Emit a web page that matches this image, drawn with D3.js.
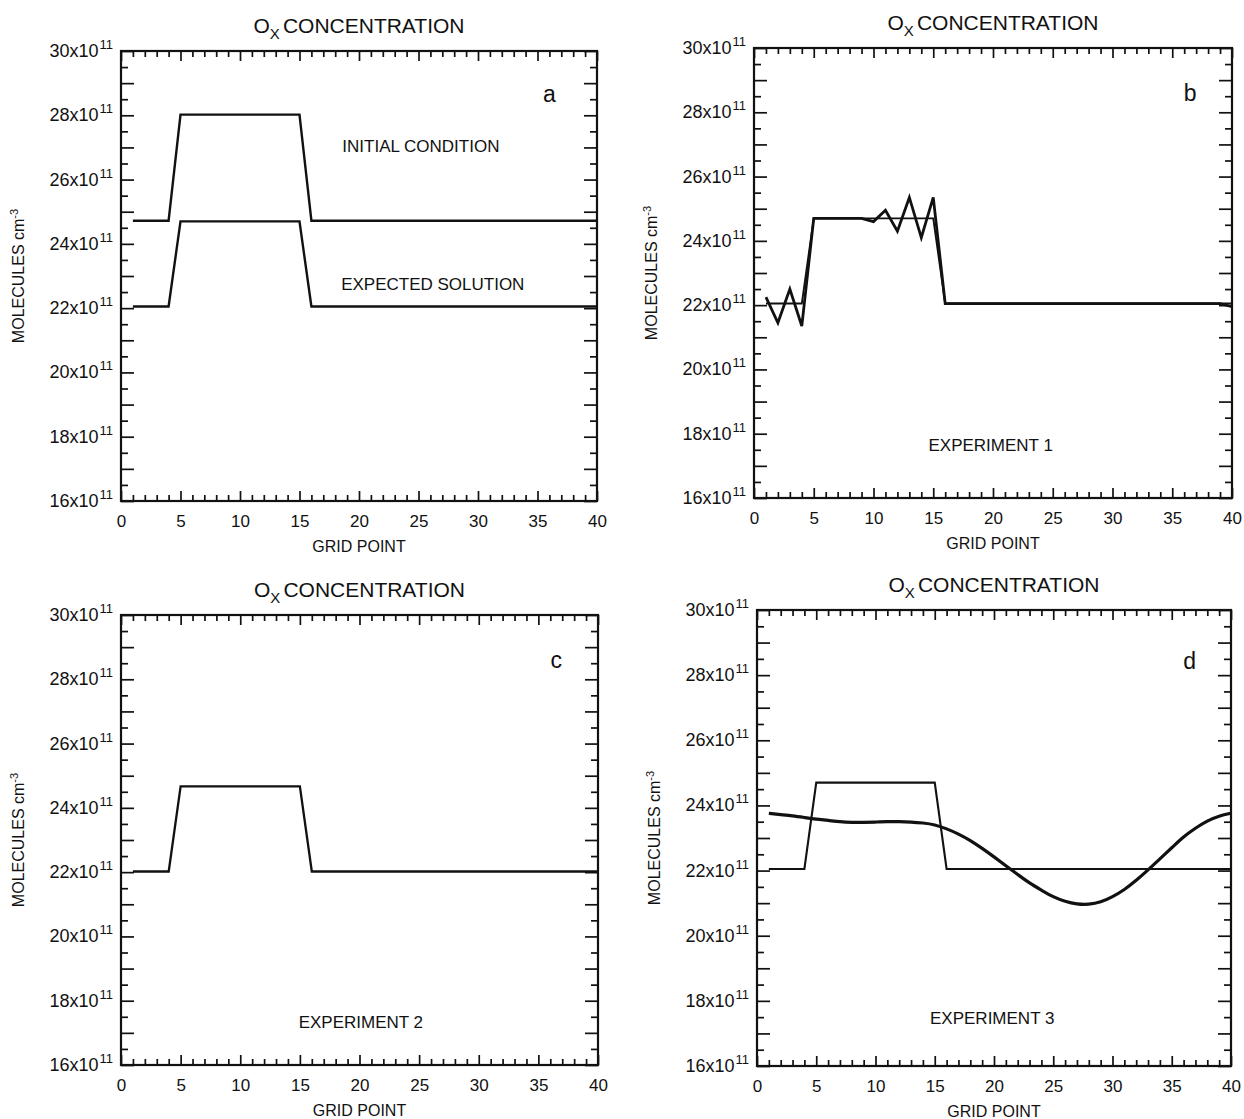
<!DOCTYPE html>
<html>
<head>
<meta charset="utf-8">
<script src="https://cdn.jsdelivr.net/npm/d3@7"></script>
<style>
  body { margin: 0; background: #fff; }
  text { font-family: "Liberation Sans", Arial, Helvetica, sans-serif; fill: #111; }
</style>
</head>
<body>
<script>
// grid points along the x axis
var gridPoints = [1, 2, 3, 4, 5, 6, 7, 8, 9, 10,
  11, 12, 13, 14, 15, 16, 17, 18, 19, 20,
  21, 22, 23, 24, 25, 26, 27, 28, 29, 30,
  31, 32, 33, 34, 35, 36, 37, 38, 39, 40];

// values in units of 10^11 molecules cm-3
var initialCondition = [24.72, 24.72, 24.72, 24.72,
  28.02, 28.02, 28.02, 28.02, 28.02, 28.02, 28.02, 28.02, 28.02, 28.02, 28.02,
  24.72, 24.72, 24.72, 24.72, 24.72, 24.72, 24.72, 24.72, 24.72, 24.72,
  24.72, 24.72, 24.72, 24.72, 24.72, 24.72, 24.72, 24.72, 24.72, 24.72,
  24.72, 24.72, 24.72, 24.72, 24.72];

var expectedSolution = [22.05, 22.05, 22.05, 22.05,
  24.7, 24.7, 24.7, 24.7, 24.7, 24.7, 24.7, 24.7, 24.7, 24.7, 24.7,
  22.05, 22.05, 22.05, 22.05, 22.05, 22.05, 22.05, 22.05, 22.05, 22.05,
  22.05, 22.05, 22.05, 22.05, 22.05, 22.05, 22.05, 22.05, 22.05, 22.05,
  22.05, 22.05, 22.05, 22.05, 22.05];

var experiment1 = [22.25, 21.45, 22.5, 21.35,
  24.7, 24.7, 24.7, 24.7, 24.7, 24.6, 24.95, 24.3, 25.35, 24.1, 25.35,
  22.05, 22.05, 22.05, 22.05, 22.05, 22.05, 22.05, 22.05, 22.05, 22.05,
  22.05, 22.05, 22.05, 22.05, 22.05, 22.05, 22.05, 22.05, 22.05, 22.05,
  22.05, 22.05, 22.05, 22.05, 21.95];

var experiment2 = [22.02, 22.02, 22.02, 22.02,
  24.67, 24.67, 24.67, 24.67, 24.67, 24.67, 24.67, 24.67, 24.67, 24.67, 24.67,
  22.02, 22.02, 22.02, 22.02, 22.02, 22.02, 22.02, 22.02, 22.02, 22.02,
  22.02, 22.02, 22.02, 22.02, 22.02, 22.02, 22.02, 22.02, 22.02, 22.02,
  22.02, 22.02, 22.02, 22.02, 22.02];

var experiment3 = [23.76, 23.72, 23.68, 23.63, 23.58, 23.54, 23.5, 23.48, 23.48, 23.49,
  23.5, 23.5, 23.49, 23.46, 23.4, 23.28, 23.12, 22.92, 22.68, 22.42,
  22.15, 21.88, 21.62, 21.4, 21.2, 21.06, 20.98, 20.97, 21.04, 21.2,
  21.42, 21.7, 22.02, 22.36, 22.7, 23.03, 23.3, 23.52, 23.67, 23.76];

var xTickValues = [0, 5, 10, 15, 20, 25, 30, 35, 40];
var yTickValues = [16, 18, 20, 22, 24, 26, 28, 30];
var yTickLabels = ['16x10', '18x10', '20x10', '22x10', '24x10', '26x10', '28x10', '30x10'];

var width = 1244;
var height = 1119;

var svg = d3.select('body')
  .append('svg')
  .attr('width', width)
  .attr('height', height);

svg.append('rect')
  .attr('width', width)
  .attr('height', height)
  .attr('fill', '#fff');

function series(values) {
  return gridPoints.map(function (g, i) { return { x: g, y: values[i] }; });
}

function drawPanel(p) {
  var x = d3.scaleLinear().domain([0, 40]).range([p.left, p.right]);
  var y = d3.scaleLinear().domain([16, 30]).range([p.bottom, p.top]);
  var g = svg.append('g');

  var xMinor = d3.range(0, 41).filter(function (d) { return d % 5 !== 0; });
  var yMinor = d3.range(16, 30.01, 0.5).filter(function (d) { return d % 1 !== 0; });
  var yMid = d3.range(16, 31).filter(function (d) { return d % 2 !== 0; });

  function clean(sel) {
    sel.select('.domain').remove();
    sel.selectAll('line').attr('stroke', '#111').attr('stroke-width', 1.7);
  }

  // bottom and top ticks, pointing inward
  g.append('g').attr('transform', 'translate(0,' + p.bottom + ')')
    .call(d3.axisBottom(x).tickValues(xMinor).tickSize(-6).tickFormat(''))
    .call(clean);
  g.append('g').attr('transform', 'translate(0,' + p.bottom + ')')
    .call(d3.axisBottom(x).tickValues(xTickValues).tickSize(-10).tickPadding(14))
    .call(clean)
    .selectAll('text')
    .attr('font-size', 17)
    .attr('font-family', '"Liberation Sans", Arial, sans-serif')
    .attr('fill', '#111');
  g.append('g').attr('transform', 'translate(0,' + p.top + ')')
    .call(d3.axisTop(x).tickValues(xMinor).tickSize(-6).tickFormat(''))
    .call(clean);
  g.append('g').attr('transform', 'translate(0,' + p.top + ')')
    .call(d3.axisTop(x).tickValues(xTickValues).tickSize(-10).tickFormat(''))
    .call(clean);

  // left and right ticks
  [[d3.axisLeft, p.left], [d3.axisRight, p.right]].forEach(function (a) {
    g.append('g').attr('transform', 'translate(' + a[1] + ',0)')
      .call(a[0](y).tickValues(yMinor).tickSize(-7).tickFormat(''))
      .call(clean);
    g.append('g').attr('transform', 'translate(' + a[1] + ',0)')
      .call(a[0](y).tickValues(yMid.concat(yTickValues)).tickSize(-13).tickFormat(''))
      .call(clean);
  });

  // frame
  g.append('rect')
    .attr('x', p.left)
    .attr('y', p.top)
    .attr('width', p.right - p.left)
    .attr('height', p.bottom - p.top)
    .attr('fill', 'none')
    .attr('stroke', '#111')
    .attr('stroke-width', 2.2);

  // y tick labels with superscript exponent
  var yl = g.selectAll('.ylab')
    .data(yTickValues)
    .enter()
    .append('text')
    .attr('class', 'ylab')
    .attr('x', p.left - 8)
    .attr('y', function (d) { return y(d) + 6; })
    .attr('text-anchor', 'end')
    .attr('font-size', 18);
  yl.append('tspan').text(function (d, i) { return yTickLabels[i]; });
  yl.append('tspan').attr('dy', -8).attr('dx', 1).attr('font-size', 13).text('11');

  // x axis title
  g.append('text')
    .attr('x', (p.left + p.right) / 2)
    .attr('y', p.bottom + 51)
    .attr('text-anchor', 'middle')
    .attr('font-size', 16)
    .text('GRID POINT');

  // y axis title
  var yt = g.append('text')
    .attr('transform', 'translate(' + (p.left - 97) + ',' + ((p.top + p.bottom) / 2) + ') rotate(-90)')
    .attr('text-anchor', 'middle')
    .attr('font-size', 16);
  yt.append('tspan').text('MOLECULES cm');
  yt.append('tspan').attr('dy', -6).attr('font-size', 11).text('-3');

  // title
  var tt = g.append('text')
    .attr('x', (p.left + p.right) / 2)
    .attr('y', p.top - 18)
    .attr('text-anchor', 'middle')
    .attr('font-size', 21);
  tt.append('tspan').text('O');
  tt.append('tspan').attr('dy', 6).attr('font-size', 15).text('X');
  tt.append('tspan').attr('dy', -6).attr('dx', 3).text('CONCENTRATION');

  // panel letter
  g.append('text')
    .attr('x', x(p.letterAt[0]))
    .attr('y', y(p.letterAt[1]))
    .attr('text-anchor', 'middle')
    .attr('font-size', 23)
    .text(p.letter);

  var line = d3.line()
    .x(function (d) { return x(d.x); })
    .y(function (d) { return y(d.y); });

  p.lines.forEach(function (l) {
    g.append('path')
      .datum(series(l.values))
      .attr('fill', 'none')
      .attr('stroke', '#111')
      .attr('stroke-width', l.width)
      .attr('stroke-linejoin', 'miter')
      .attr('d', line.curve(l.smooth ? d3.curveNatural : d3.curveLinear));
  });

  p.notes.forEach(function (n) {
    g.append('text')
      .attr('x', x(n.at[0]))
      .attr('y', y(n.at[1]))
      .attr('font-size', 17)
      .text(n.text);
  });
}

drawPanel({
  left: 121, right: 597, top: 51, bottom: 501,
  letter: 'a', letterAt: [36, 28.4],
  lines: [
    { values: initialCondition, width: 2.4 },
    { values: expectedSolution, width: 2.4 }
  ],
  notes: [
    { text: 'INITIAL CONDITION', at: [18.6, 26.85] },
    { text: 'EXPECTED SOLUTION', at: [18.5, 22.55] }
  ]
});

drawPanel({
  left: 754, right: 1232, top: 48, bottom: 498,
  letter: 'b', letterAt: [36.5, 28.35],
  lines: [
    { values: expectedSolution, width: 1.9 },
    { values: experiment1, width: 2.8 }
  ],
  notes: [
    { text: 'EXPERIMENT 1', at: [14.6, 17.45] }
  ]
});

drawPanel({
  left: 121, right: 598, top: 615, bottom: 1065,
  letter: 'c', letterAt: [36.5, 28.35],
  lines: [
    { values: experiment2, width: 2.3 }
  ],
  notes: [
    { text: 'EXPERIMENT 2', at: [14.9, 17.15] }
  ]
});

drawPanel({
  left: 757, right: 1231, top: 610, bottom: 1066,
  letter: 'd', letterAt: [36.5, 28.2],
  lines: [
    { values: expectedSolution, width: 2.1 },
    { values: experiment3, width: 3.2, smooth: true }
  ],
  notes: [
    { text: 'EXPERIMENT 3', at: [14.6, 17.3] }
  ]
});
</script>
</body>
</html>
